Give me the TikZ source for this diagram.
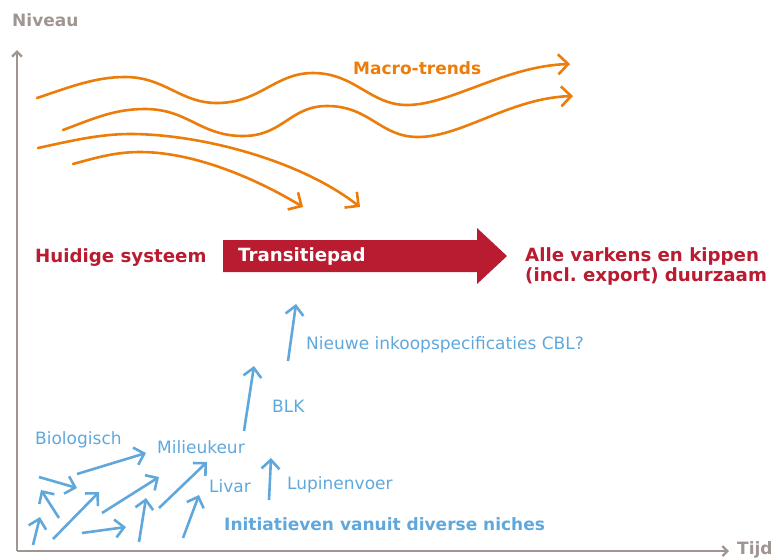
\documentclass[tikz,border=0pt]{standalone}
\usepackage{fontspec}
\setmainfont{DejaVu Sans}
\usetikzlibrary{arrows.meta}
\frenchspacing

\definecolor{axisgray}{RGB}{160,150,145}
\definecolor{trendorange}{RGB}{236,125,10}
\definecolor{pathred}{RGB}{185,28,48}
\definecolor{nicheblue}{RGB}{96,168,220}

\tikzset{
  lbl/.style={inner sep=0pt, anchor=base west, font=\fontsize{17}{20}\selectfont},
  redlbl/.style={lbl, text=pathred, font=\fontsize{18.2}{19.5}\selectfont\bfseries},
  bluelbl/.style={lbl, text=nicheblue},
  axis/.style={draw=axisgray, line width=2.3pt, -{Straight Barb[length=5pt,width=10pt]}},
  trend/.style={draw=trendorange, line width=2.6pt, line cap=round,
    -{Straight Barb[length=10pt,width=20pt]}},
  niche/.style={draw=nicheblue, line width=2.6pt,
    -{Straight Barb[length=9pt,width=18pt]}}
}

\begin{document}
\begin{tikzpicture}[x=1pt,y=-1pt]
\useasboundingbox (0,0) rectangle (775,558);

% axes
\coordinate (origin) at (17,551);
\coordinate (ytop) at (17,50);
\coordinate (xend) at (729,551);
\draw[axis] (origin) -- (ytop);
\draw[axis] (origin) -- (xend);
\node[lbl, text=axisgray, font=\fontsize{17}{20}\selectfont\bfseries] (niveau) at (12,26.7) {Niveau};
\node[lbl, text=axisgray, font=\fontsize{17}{20}\selectfont\bfseries] (tijd) at (737,554) {Tijd};

% macro-trends
\draw[trend] (37,98) .. controls (70,87) and (95,77) .. (125,77)
  .. controls (165,77) and (180,103) .. (217,103)
  .. controls (260,103) and (275,73) .. (313,73)
  .. controls (355,73) and (370,105) .. (407,105)
  .. controls (450,105) and (505,66) .. (570,64);
\draw[trend] (63,130) .. controls (95,118) and (115,109) .. (145,109)
  .. controls (188,109) and (200,136) .. (243,136)
  .. controls (283,136) and (290,106) .. (327,106)
  .. controls (370,106) and (380,137) .. (418,137)
  .. controls (462,137) and (510,98) .. (573,96);
\draw[trend] (38,148) .. controls (70,141) and (100,134) .. (130,134)
  .. controls (200,134) and (300,160) .. (360,207);
\draw[trend] (73,164) .. controls (95,158) and (115,152) .. (140,152)
  .. controls (190,152) and (250,175) .. (303,207);
\node[lbl, text=trendorange, font=\fontsize{17}{20}\selectfont\bfseries] (macro) at (353,74) {Macro-trends};

% transition path
\fill[pathred] (223,240) -- (477,240) -- (477,228) -- (507,256) -- (477,284)
  -- (477,272) -- (223,272) -- cycle;
\node[redlbl] (huidig) at (35,262) {Huidige systeem};
\node[redlbl, text=white] (transitie) at (238,261.7) {Transitiepad};
\node[redlbl, align=left] (doel) at (525,281.2) {Alle varkens en kippen\\(incl. export) duurzaam};

% niche labels
\node[bluelbl] (bio) at (35,444) {Biologisch};
\node[bluelbl] (milieu) at (157,453) {Milieukeur};
\node[bluelbl] (livar) at (209,492) {Livar};
\node[bluelbl] (blk) at (272,412) {BLK};
\node[bluelbl] (lupine) at (287,489) {Lupinenvoer};
\node[bluelbl] (cbl) at (306,349) {Nieuwe inkoopspecificaties CBL?};
\node[bluelbl, font=\fontsize{17}{20}\selectfont\bfseries] (niches) at (224,530) {Initiatieven vanuit diverse niches};

% niche arrows: tails (t) and heads (h)
\coordinate (n1t) at (33,545);  \coordinate (n1h) at (40,517);
\coordinate (n2t) at (59,518);  \coordinate (n2h) at (41,490);
\coordinate (n3t) at (39,477);  \coordinate (n3h) at (77,488);
\coordinate (n4t) at (77,474);  \coordinate (n4h) at (146,453);
\coordinate (n5t) at (53,539);  \coordinate (n5h) at (99,492);
\coordinate (n6t) at (82,533);  \coordinate (n6h) at (126,527);
\coordinate (n7t) at (102,513); \coordinate (n7h) at (159,477);
\coordinate (n8t) at (139,542); \coordinate (n8h) at (146,498);
\coordinate (n9t) at (159,508); \coordinate (n9h) at (207,462);
\coordinate (n10t) at (183,538); \coordinate (n10h) at (199,495);
\coordinate (n11t) at (269,500); \coordinate (n11h) at (271,458);
\coordinate (n12t) at (244,431); \coordinate (n12h) at (254,366);
\coordinate (n13t) at (288,361); \coordinate (n13h) at (296,304);
\foreach \i in {1,...,13} \draw[niche] (n\i t) -- (n\i h);

\end{tikzpicture}
\end{document}
